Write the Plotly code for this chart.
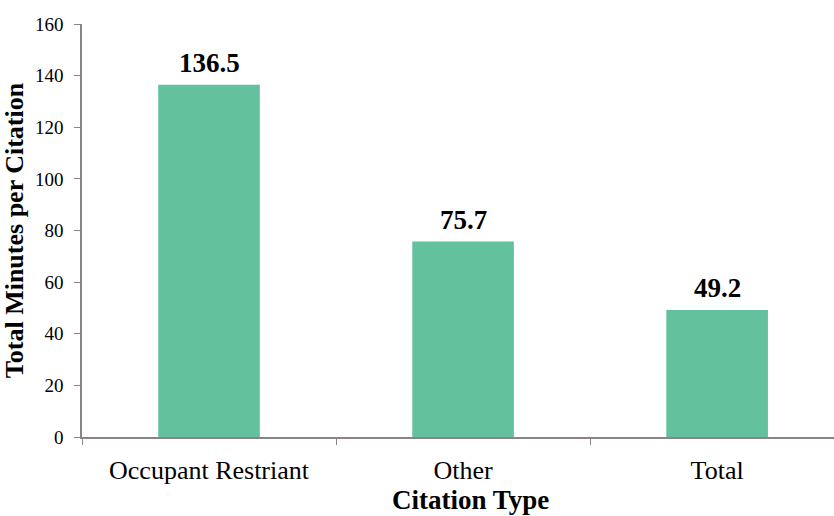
import plotly.graph_objects as go

# Citation categories and minutes per citation
categories = ["Occupant Restriant", "Other", "Total"]
minutes = [136.5, 75.7, 49.2]
y_ticks = [0, 20, 40, 60, 80, 100, 120, 140, 160]

bar_color = "#63C29D"
axis_color = "#8C8484"
serif = "Liberation Serif, Times New Roman, serif"

fig = go.Figure(
    go.Bar(
        x=categories,
        y=minutes,
        width=0.4,
        marker=dict(color=bar_color, line=dict(width=0)),
        hoverinfo="x+y",
    )
)

# Value labels above each bar
for cat, val in zip(categories, minutes):
    fig.add_annotation(
        x=cat,
        y=val,
        text=f"<b>{val:.1f}</b>",
        showarrow=False,
        yanchor="bottom",
        yshift=5,
        font=dict(family=serif, size=27, color="black"),
    )

# X-axis title, sitting right at the bottom edge
fig.add_annotation(
    xref="paper",
    yref="paper",
    x=0.517,
    y=0,
    xanchor="center",
    yanchor="bottom",
    yshift=-79,
    borderpad=0,
    text="<b>Citation Type</b>",
    showarrow=False,
    font=dict(family=serif, size=27, color="black"),
)

fig.update_layout(
    width=834,
    height=516,
    margin=dict(l=82, r=0, t=24, b=79),
    paper_bgcolor="white",
    plot_bgcolor="white",
    showlegend=False,
    font=dict(family=serif, color="black"),
    xaxis=dict(
        range=[-0.5, 2.46],
        showline=True,
        linecolor=axis_color,
        linewidth=1.5,
        ticks="outside",
        tickson="boundaries",
        ticklen=6,
        tickcolor=axis_color,
        tickfont=dict(family=serif, size=26, color="black"),
        ticklabelstandoff=9,
        showgrid=False,
        zeroline=False,
    ),
    yaxis=dict(
        range=[0, 160],
        tickvals=y_ticks,
        showline=True,
        linecolor=axis_color,
        linewidth=1.5,
        ticks="outside",
        ticklen=6,
        tickcolor=axis_color,
        tickfont=dict(family=serif, size=19, color="black"),
        ticklabelstandoff=7,
        title=dict(text="<b>Total Minutes per Citation</b>", font=dict(family=serif, size=26), standoff=4),
        showgrid=False,
        zeroline=False,
    ),
)

fig.write_html("out.html")
